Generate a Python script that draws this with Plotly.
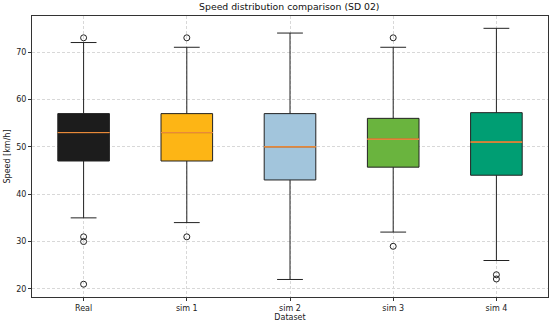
import plotly.graph_objects as go

categories = ["Real", "sim 1", "sim 2", "sim 3", "sim 4"]
q1 = [47, 47, 43, 45.7, 44]
median = [53, 53, 50, 51.6, 51]
q3 = [57, 57, 57, 56, 57.2]
lower_whisker = [35, 34, 22, 32, 26]
upper_whisker = [72, 71, 74, 71, 75]
outliers = [[73, 31, 30, 21], [73, 31], [], [73, 29], [23.0, 22.1]]
colors = ["#1c1c1c", "#fdb515", "#a2c5dc", "#6ab43e", "#009e73"]

positions = list(range(1, len(categories) + 1))
FONT = "DejaVu Sans"

fig = go.Figure()
for i, name in enumerate(categories):
    fig.add_trace(go.Box(
        x=[positions[i]], q1=[q1[i]], median=[median[i]], q3=[q3[i]],
        lowerfence=[lower_whisker[i]], upperfence=[upper_whisker[i]],
        width=0.5, whiskerwidth=0.5, fillcolor=colors[i],
        line=dict(color="#222222", width=1), boxpoints=False,
        name=name, showlegend=False, hoverinfo="skip",
    ))
    # median line overlay (zero-height box at median)
    fig.add_trace(go.Box(
        x=[positions[i]], q1=[median[i]], median=[median[i]], q3=[median[i]],
        lowerfence=[median[i]], upperfence=[median[i]],
        width=0.5, whiskerwidth=0, fillcolor="rgba(0,0,0,0)",
        line=dict(color="#e8893a", width=1), boxpoints=False,
        showlegend=False, hoverinfo="skip",
    ))
    if outliers[i]:
        fig.add_trace(go.Scatter(
            x=[positions[i]] * len(outliers[i]), y=outliers[i], mode="markers",
            marker=dict(symbol="circle-open", size=6, color="#222222",
                        line=dict(width=1)),
            showlegend=False, hoverinfo="skip",
        ))

fig.update_layout(
    width=550, height=323,
    margin=dict(l=32, r=2, t=16, b=26),
    paper_bgcolor="white", plot_bgcolor="white",
    boxmode="overlay",
    font=dict(family=FONT, size=8, color="#222222"),
    title=dict(text="Speed distribution comparison (SD 02)", x=0.526, xanchor="center",
               y=0.99, yanchor="top", font=dict(family=FONT, size=9.3, color="#111111")),
)
fig.update_xaxes(
    range=[0.5, 5.5], tickmode="array", tickvals=positions, ticktext=categories,
    showline=True, mirror=True, linecolor="#333333", linewidth=1,
    ticks="outside", ticklen=3, tickcolor="#333333",
    showgrid=True, gridcolor="#d8d8d8", griddash="3px,2px", gridwidth=0.7,
    zeroline=False,
    title=dict(text="Dataset", standoff=2, font=dict(size=8)),
)
fig.update_yaxes(
    range=[18.3, 77.6], tickvals=[20, 30, 40, 50, 60, 70],
    showline=True, mirror=True, linecolor="#333333", linewidth=1,
    ticks="outside", ticklen=3, tickcolor="#333333",
    showgrid=True, gridcolor="#d8d8d8", griddash="3px,2px", gridwidth=0.7,
    zeroline=False,
    title=dict(text="Speed [km/h]", standoff=4, font=dict(size=8)),
)

fig.write_html("out.html", config={"displayModeBar": False},
               post_script="document.body.style.margin='0';document.body.style.overflow='hidden';")
